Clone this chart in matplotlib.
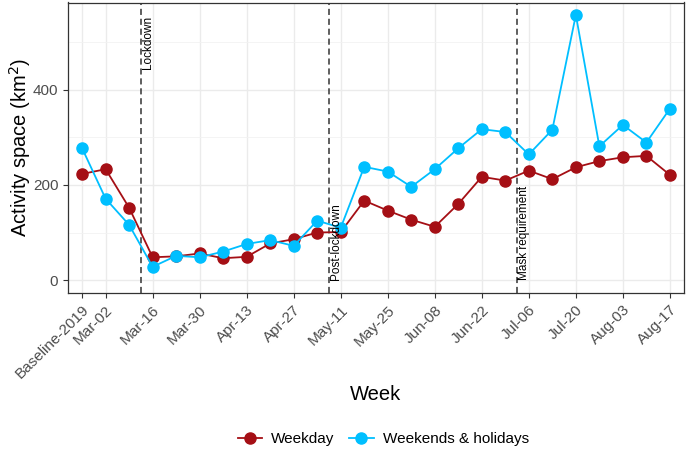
import numpy as np
import matplotlib.pyplot as plt

plt.rcParams['font.family'] = ['Liberation Sans', 'DejaVu Sans']

# %% Data
weeks = ['Baseline-2019', 'Mar-02', 'Mar-09', 'Mar-16', 'Mar-23', 'Mar-30',
         'Apr-06', 'Apr-13', 'Apr-20', 'Apr-27', 'May-04', 'May-11',
         'May-18', 'May-25', 'Jun-01', 'Jun-08', 'Jun-15', 'Jun-22',
         'Jun-29', 'Jul-06', 'Jul-13', 'Jul-20', 'Jul-27', 'Aug-03',
         'Aug-10', 'Aug-17']
weekday = [223, 233, 152, 48, 50, 56, 46, 49, 77, 86, 100, 101,
           167, 146, 127, 112, 160, 217, 209, 230, 212, 237, 250, 258,
           261, 221]
weekend = [277, 171, 116, 28, 51, 48, 60, 76, 84, 72, 125, 110,
           238, 228, 196, 233, 277, 317, 311, 264, 316, 557, 281, 326,
           289, 360]
events = ['Lockdown', 'Post-lockdown', 'Mask requirement']
event_pos = [2.5, 10.5, 18.5]

red = '#A50F15'
blue = '#00BFFF'

# %% Plot
fig = plt.figure(figsize=(6.88, 4.49), dpi=100)
ax = fig.add_axes([68 / 688, 1 - 293 / 449, 616 / 688, 290.5 / 449])

x = np.arange(len(weeks))
ax.plot(x, weekday, '-o', color=red, lw=1.3, ms=8, label='Weekday', zorder=3)
ax.plot(x, weekend, '-o', color=blue, lw=1.3, ms=8,
        label='Weekends & holidays', zorder=3)

for name, pos in zip(events, event_pos):
    ax.axvline(pos, color='#333333', ls=(0, (4, 2.5)), lw=1.1, zorder=2)
    if name == 'Lockdown':
        ax.text(pos + 0.3, 555, name, rotation=90, ha='center', va='top',
                fontsize=8.5, color='black')
    else:
        ax.text(pos + 0.3, 0, name, rotation=90, ha='center', va='bottom',
                fontsize=8.5, color='black')

tick_idx = [0] + list(range(1, len(weeks), 2))
ax.set_xticks(tick_idx)
ax.set_xticklabels([weeks[i] for i in tick_idx], rotation=45, ha='right',
                   rotation_mode='anchor', fontsize=11, color='#4D4D4D')
ax.set_xlim(-0.6, len(weeks) - 1 + 0.6)

ax.set_ylim(-27, 583)
ax.set_yticks([0, 200, 400])
ax.set_yticks([100, 300, 500], minor=True)
ax.tick_params(axis='y', labelsize=11, labelcolor='#4D4D4D')
ax.tick_params(axis='y', which='minor', length=0)
ax.tick_params(axis='both', which='major', length=3.5, color='#333333',
               width=0.8)

ax.grid(True, which='major', color='#EBEBEB', lw=1.0, zorder=0)
ax.grid(True, which='minor', axis='y', color='#F2F2F2', lw=0.6, zorder=0)
ax.set_axisbelow(True)
for s in ax.spines.values():
    s.set_color('#333333')
    s.set_linewidth(0.9)

ax.set_ylabel('Activity space (km$^2$)', fontsize=14.5)
ax.yaxis.set_label_coords(-0.078, 0.5)
ax.yaxis.label.set_va('center')
ax.set_xlabel('Week', fontsize=14.5)
ax.xaxis.set_label_coords(0.5, -0.35)
ax.xaxis.label.set_va('center')

fig.legend(loc='lower center', ncol=2, frameon=False, fontsize=11,
           bbox_to_anchor=(0.557, -0.025), handlelength=1.6,
           columnspacing=0.95, handletextpad=0.6)

fig.savefig('out.png', dpi=100)
